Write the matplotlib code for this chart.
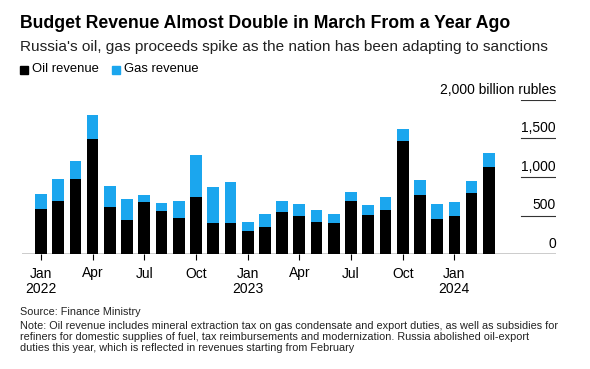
import matplotlib
matplotlib.use("Agg")
import matplotlib.pyplot as plt
from matplotlib.patches import Rectangle

plt.rcParams['font.family'] = ['Liberation Sans', 'DejaVu Sans']

months = ["Jan 2022", "Feb 2022", "Mar 2022", "Apr 2022", "May 2022", "Jun 2022",
          "Jul 2022", "Aug 2022", "Sep 2022", "Oct 2022", "Nov 2022", "Dec 2022",
          "Jan 2023", "Feb 2023", "Mar 2023", "Apr 2023", "May 2023", "Jun 2023",
          "Jul 2023", "Aug 2023", "Sep 2023", "Oct 2023", "Nov 2023", "Dec 2023",
          "Jan 2024", "Feb 2024", "Mar 2024"]
oil = [582, 685, 970, 1491, 608, 440, 672, 556, 465, 737, 401, 401,
       297, 349, 543, 491, 414, 401, 685, 504, 569, 1474, 763, 453,
       491, 789, 1125]
total = [784, 970, 1207, 1802, 879, 711, 763, 659, 685, 1280, 866, 931,
         414, 517, 685, 647, 569, 517, 802, 634, 737, 1629, 957, 647,
         672, 944, 1306]
gas = [t - o for t, o in zip(total, oil)]

tick_idx = [0, 3, 6, 9, 12, 15, 18, 21, 24]
tick_labels = ["Jan\n2022", "Apr", "Jul", "Oct", "Jan\n2023", "Apr", "Jul", "Oct", "Jan\n2024"]
y_ticks = [0, 500, 1000, 1500, 2000]
y_labels = ["0", "500", "1,000", "1,500", "2,000 billion rubles"]

note_lines = [
    "Note: Oil revenue includes mineral extraction tax on gas condensate and export duties, as well as subsidies for",
    "refiners for domestic supplies of fuel, tax reimbursements and modernization. Russia abolished oil-export",
    "duties this year, which is reflected in revenues starting from February",
]

OIL_C = "#000000"
GAS_C = "#1BA6EE"

fig = plt.figure(figsize=(5.9, 3.69), dpi=100)
ax = fig.add_axes([22/590, 1-254/369, (556-22)/590, (254-100)/369])

x = list(range(len(months)))
ax.bar(x, oil, width=0.68, color=OIL_C, zorder=2)
ax.bar(x, gas, bottom=oil, width=0.68, color=GAS_C, zorder=2)

ax.set_xlim(-1.1, 29.9)
ax.set_ylim(0, 2000)
for s in ax.spines.values():
    s.set_visible(False)
ax.set_yticks([])
ax.axhline(0, color="black", lw=1.0, zorder=3)
for v, lab in zip(y_ticks, y_labels):
    if v > 0:
        ax.plot([27.86, 29.9], [v, v], color="#333333", lw=0.8, zorder=1)
    ax.annotate(lab, xy=(29.9, v), xytext=(0, 2.5), textcoords="offset points",
                ha="right", va="bottom", fontsize=10, color="black")

ax.set_xticks(tick_idx)
ax.set_xticklabels(tick_labels, fontsize=10, linespacing=1.15)
ax.tick_params(axis="x", length=4, width=0.8, color="black", pad=5)

fig.text(20/590, 1-24/369, "Budget Revenue Almost Double in March From a Year Ago",
         fontsize=12.7, fontweight="bold", va="center", ha="left")
fig.text(20/590, 1-47.5/369, "Russia's oil, gas proceeds spike as the nation has been adapting to sanctions",
         fontsize=11.05, va="center", ha="left", color="#222222")

# legend
fig.patches.append(Rectangle((20/590, 1-73.5/369), 8/590, 8/369, transform=fig.transFigure,
                             color=OIL_C, figure=fig))
fig.text(32/590, 1-69.5/369, "Oil revenue", fontsize=9.4, va="center", ha="left")
fig.patches.append(Rectangle((112/590, 1-73.5/369), 8/590, 8/369, transform=fig.transFigure,
                             color=GAS_C, figure=fig))
fig.text(124/590, 1-69.5/369, "Gas revenue", fontsize=9.4, va="center", ha="left")

fig.text(20/590, 1-312/369, "Source: Finance Ministry", fontsize=7.8, va="center", ha="left", color="#222222")
for i, line in enumerate(note_lines):
    fig.text(20/590, 1-(325.7 + 11*i)/369, line, fontsize=7.8, va="center", ha="left", color="#222222")

fig.savefig("out.png", dpi=100)
